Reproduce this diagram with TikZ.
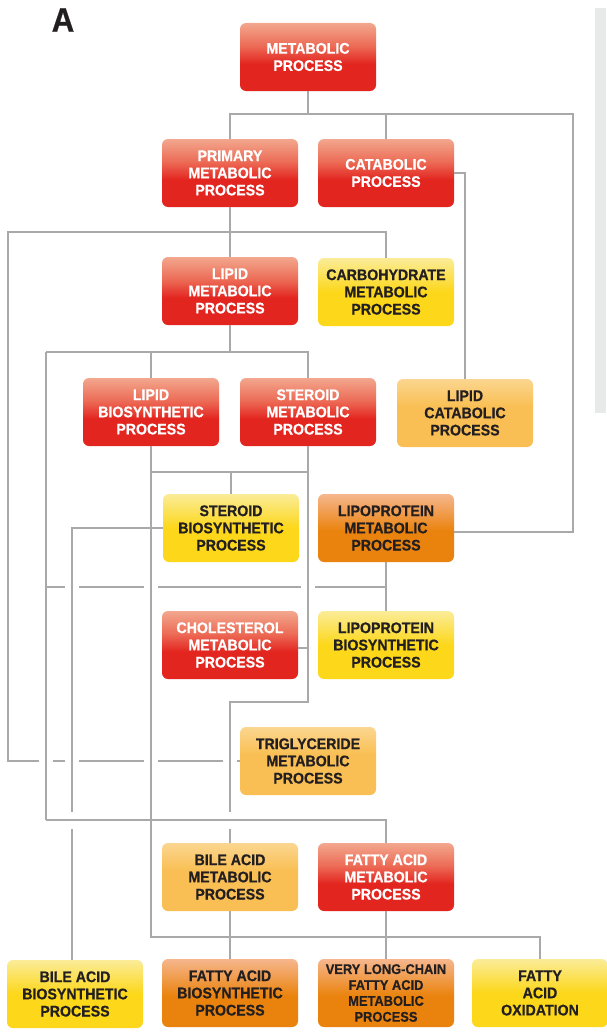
\documentclass[tikz,border=0pt]{standalone}
\usepackage{fontspec}
\setmainfont{Liberation Sans}[FakeStretch=0.92,BoldFeatures={FakeBold=0.6}]
\usetikzlibrary{calc}

\begin{document}
\begin{tikzpicture}[x=1pt,y=-1pt]
			\definecolor{redtop}{HTML}{F3A78E}
			\definecolor{redmid}{HTML}{EC6A55}
			\definecolor{redbot}{HTML}{E3251F}
			\definecolor{yeltop}{HTML}{FBEC98}
			\definecolor{yelbot}{HTML}{FCD71A}
			\definecolor{ambtop}{HTML}{FBD690}
			\definecolor{ambbot}{HTML}{F9BF54}
			\definecolor{orgtop}{HTML}{F6B68D}
			\definecolor{orgbot}{HTML}{EA830E}
			\definecolor{linegray}{HTML}{A9A9A9}
			\definecolor{panelgray}{HTML}{E8EAEA}
			\definecolor{txt}{HTML}{231F20}
			\pgfdeclareverticalshading{redfill}{100bp}{color(0bp)=(redbot); color(25bp)=(redbot); color(45bp)=(redbot); color(58bp)=(redmid); color(75bp)=(redtop); color(100bp)=(redtop)}
			\pgfdeclareverticalshading{yelfill}{100bp}{color(0bp)=(yelbot); color(25bp)=(yelbot); color(50bp)=(yelbot); color(75bp)=(yeltop); color(100bp)=(yeltop)}
			\pgfdeclareverticalshading{ambfill}{100bp}{color(0bp)=(ambbot); color(25bp)=(ambbot); color(55bp)=(ambbot); color(75bp)=(ambtop); color(100bp)=(ambtop)}
			\pgfdeclareverticalshading{orgfill}{100bp}{color(0bp)=(orgbot); color(25bp)=(orgbot); color(48bp)=(orgbot); color(75bp)=(orgtop); color(100bp)=(orgtop)}
			
			\tikzset{proc/.style={rectangle,rounded corners=6pt,minimum width=136pt,minimum height=68pt,inner sep=0pt,align=center,
					font=\fontsize{15.4}{17.2}\selectfont\bfseries},
				redbox/.style={proc,shading=redfill,text=white},
				yelbox/.style={proc,shading=yelfill,text=txt},
				ambbox/.style={proc,shading=ambfill,text=txt},
				orgbox/.style={proc,shading=orgfill,text=txt},
				link/.style={draw=linegray,line width=2pt},
				cut/.style={draw=white,line width=5pt}}
			
			\useasboundingbox (0,0) rectangle (606,1033);
			\fill[panelgray] (595,8) rectangle (606,413);
			\node[font=\fontsize{34}{34}\selectfont\bfseries\addfontfeatures{FakeBold=2.5},text=txt] (lab) at (63,20) {A};
			
			%------------boxes
			\node[redbox] (meta) at (308,57) {METABOLIC\\PROCESS};
			\node[redbox] (prim) at (230,173) {PRIMARY\\METABOLIC\\PROCESS};
			\node[redbox] (cata) at (386,173) {CATABOLIC\\PROCESS};
			\node[redbox] (lipid) at (230,291) {LIPID\\METABOLIC\\PROCESS};
			\node[yelbox] (carbo) at (386,292) {CARBOHYDRATE\\METABOLIC\\PROCESS};
			\node[redbox] (lbio) at (151,412) {LIPID\\BIOSYNTHETIC\\PROCESS};
			\node[redbox] (ster) at (308,412) {STEROID\\METABOLIC\\PROCESS};
			\node[ambbox] (lcat) at (465,413) {LIPID\\CATABOLIC\\PROCESS};
			\node[yelbox] (sbio) at (231,528) {STEROID\\BIOSYNTHETIC\\PROCESS};
			\node[orgbox] (lpro) at (386,528) {LIPOPROTEIN\\METABOLIC\\PROCESS};
			\node[redbox] (chol) at (230,645) {CHOLESTEROL\\METABOLIC\\PROCESS};
			\node[yelbox] (lpbio) at (386,645) {LIPOPROTEIN\\BIOSYNTHETIC\\PROCESS};
			\node[ambbox] (trig) at (308,761) {TRIGLYCERIDE\\METABOLIC\\PROCESS};
			\node[ambbox] (bile) at (230,877) {BILE ACID\\METABOLIC\\PROCESS};
			\node[redbox] (fatty) at (386,877) {FATTY ACID\\METABOLIC\\PROCESS};
			\node[yelbox] (babio) at (75,994) {BILE ACID\\BIOSYNTHETIC\\PROCESS};
			\node[orgbox] (fabio) at (230,993) {FATTY ACID\\BIOSYNTHETIC\\PROCESS};
			\node[orgbox,font=\fontsize{14}{15.9}\selectfont\bfseries] (vlc) at (386,993) {VERY LONG-CHAIN\\FATTY ACID\\METABOLIC\\PROCESS};
			\node[yelbox] (fox) at (540,993) {FATTY\\ACID\\OXIDATION};
			
			%------------bus points
			\coordinate (m1) at (308,114);
			\coordinate (m2) at (573,114);
			\coordinate (p1) at (230,232);
			\coordinate (p2) at (8,232);
			\coordinate (p3) at (8,761);
			\coordinate (l1) at (230,352);
			\coordinate (l2) at (46,352);
			\coordinate (l3) at (46,820);
			\coordinate (l4) at (46,587);
			\coordinate (l5) at (386,587);
			\coordinate (b1) at (151,472);
			\coordinate (b2) at (151,937);
			\coordinate (s1) at (308,702);
			\coordinate (s2) at (230,702);
			
			%------------lines under the crossings
			\draw[link] (prim.south) -- (lipid.north);
			\draw[link] (p1) -| (carbo.north);
			\draw[link] (p1) -- (p2) -- (p3) -- (trig.west);
			\draw[link] (l4) -- (l5);
			\foreach \x in {46,72,151,230} \draw[cut] (\x-7,761) -- (\x+7,761);
			\foreach \x in {72,151,308} \draw[cut] (\x-7,587) -- (\x+7,587);
			
			%------------vertical lines
			\draw[link] (meta.south) -- (m1);
			\draw[link] (prim.north) |- (m2) |- ([yshift=-4pt]lpro.east);
			\draw[link] (cata.north) -- (cata.north |- m1);
			\draw[link] (cata.east) -| (lcat.north);
			\draw[link] (lipid.south) -- (l1);
			\draw[link] (l2) -| (ster.north);
			\draw[link] (lbio.north) -- (lbio.north |- l1);
			\draw[link] (l2) -- (l3);
			\draw[link] (lbio.south) -- (b2) -| (fox.north);
			\draw[link] (b1) -- (b1 -| ster.south);
			\draw[link] (sbio.north) -- (sbio.north |- b1);
			\draw[link] (ster.south) -- (s1) -- (s2) -- (bile.north);
			\draw[link] ([yshift=-3pt]chol.east) -- ([yshift=-3pt]chol.east -| s1);
			\draw[link] (sbio.west) -| ([xshift=-3pt]babio.north);
			\draw[link] (lpro.south) -- (lpbio.north);
			\draw[link] (bile.south) -- (fabio.north);
			\draw[link] (fatty.south) -- (vlc.north);
			\foreach \x in {72,230} \draw[cut] (\x,812) -- (\x,829);
			
			%------------line over the crossings
			\draw[link] (l3) -| (fatty.north);
		\end{tikzpicture}
\end{document}
